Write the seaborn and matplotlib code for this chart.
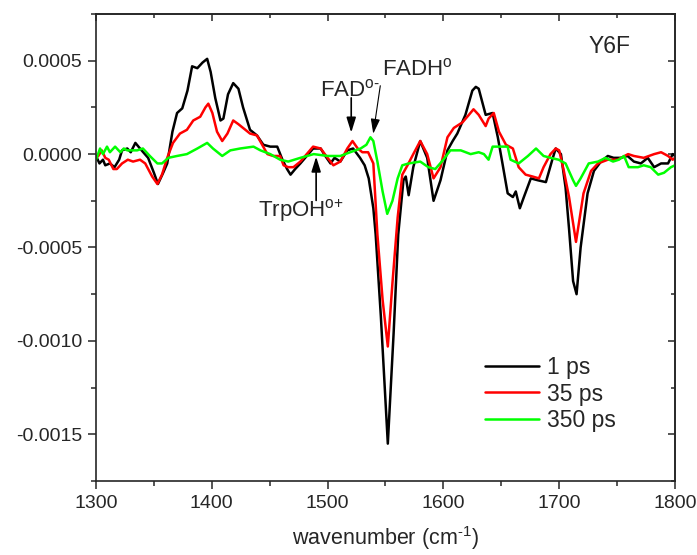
import numpy as np
import pandas as pd
import matplotlib
matplotlib.use("Agg")
import matplotlib.pyplot as plt
from matplotlib.ticker import MultipleLocator, FormatStrFormatter
import seaborn as sns

# ---------------- data ----------------
wn_1ps = [1300, 1303, 1306, 1308, 1312, 1316, 1320, 1322.5, 1327, 1330, 1334, 1338, 1345, 1350,
          1353.5, 1358, 1361.5, 1366, 1370, 1374.5, 1379, 1383, 1387.5, 1392, 1396, 1399, 1403,
          1407.5, 1410, 1414, 1418.5, 1423, 1427, 1433, 1439, 1444.5, 1450.5, 1456.5, 1461, 1465,
          1468, 1472, 1476.5, 1482, 1487.5, 1494, 1498, 1502.5, 1506, 1511, 1517, 1522, 1528,
          1532, 1535.5, 1539.5, 1541.5, 1546, 1552, 1557, 1561, 1565.5, 1567.5, 1570, 1574, 1580,
          1586, 1591.5, 1597.5, 1603.5, 1608, 1612, 1619, 1625, 1628, 1630.5, 1636.5, 1642.5,
          1647, 1651, 1655.5, 1660, 1662.5, 1666, 1669.5, 1675.5, 1681.5, 1688.5, 1694.5, 1697,
          1701.5, 1705.5, 1708.5, 1712, 1715, 1718.5, 1724.5, 1730, 1736, 1742, 1747, 1753, 1759,
          1764.5, 1770.5, 1776.5, 1782, 1788, 1794, 1798, 1800]
dA_1ps = [-0.00001, -0.00005, -0.00003, -0.00006, -0.00005, -0.00007, -0.00003, 0.00002, 0.00003,
          0.00001, 0.00006, 0.00003, -0.00002, -0.0001, -0.00016, -0.0001, -0.00005, 0.00012,
          0.00022, 0.000245, 0.00034, 0.00047, 0.00046, 0.00049, 0.00051, 0.00044, 0.0003,
          0.00018, 0.00019, 0.00032, 0.00038, 0.00035, 0.00025, 0.00013, 0.0001, 0.00005,
          0.00004, 0.00004, -0.00003, -0.00008, -0.00011, -0.00008, -0.00005, -0.00001, 0.00003,
          0.00003, -0.00001, -0.00005, -0.00002, -0.00004, 0.00002, 0.00003, -0.00002, -0.00006,
          -0.00013, -0.00029, -0.00043, -0.00087, -0.00155, -0.00096, -0.00043, -0.00014,
          -0.00012, -0.00022, -0.00007, 0.00007, -0.00002, -0.00025, -0.00014, 0.00002, 0.00007,
          0.00011, 0.00021, 0.00034, 0.00036, 0.00035, 0.00021, 0.00022, 0.00009, -0.00005,
          -0.00021, -0.00023, -0.0002, -0.00029, -0.00023, -0.00013, -0.00014, -0.00015,
          -0.00002, 0.00003, 0.0, -0.00018, -0.0004, -0.00068, -0.00075, -0.0005, -0.00021,
          -0.00009, -0.00004, -0.00001, -0.00002, -0.00002, -0.00001, -0.00004, -0.00005,
          -0.00002, -0.00007, -0.00005, -0.00005, 0.0, -0.00001]

wn_35ps = [1300, 1302, 1305, 1308, 1311, 1315, 1318, 1322.5, 1327.5, 1332, 1338, 1342.5, 1348.5,
           1353, 1357, 1361.5, 1366.5, 1372.5, 1378.5, 1384, 1390, 1394.5, 1397, 1400.5, 1404.5,
           1409, 1413.5, 1418.5, 1423, 1427, 1433, 1439, 1443.5, 1448, 1453, 1459, 1462, 1466,
           1470.5, 1476.5, 1482, 1487.5, 1494, 1500, 1505, 1511, 1517, 1521.5, 1526, 1530, 1535,
           1539.5, 1543, 1547.5, 1552, 1556, 1560.5, 1564.5, 1569, 1574, 1580, 1586, 1591.5,
           1597.5, 1603.5, 1609, 1616.5, 1622, 1626, 1630.5, 1636.5, 1639, 1643.5, 1648, 1654,
           1660, 1665, 1671, 1677, 1682.5, 1686.5, 1692.5, 1697, 1700, 1704, 1708.5, 1714.5, 1721,
           1727.5, 1733.5, 1742, 1750.5, 1759.5, 1764.5, 1773, 1782, 1788, 1794, 1798, 1800]
dA_35ps = [-0.00002, -0.00001, 0.00002, -0.00002, -0.00003, -0.00008, -0.00008, -0.00005,
           -0.00003, -0.00004, -0.00003, -0.00005, -0.00012, -0.00016, -0.00011, -0.00002,
           0.00006, 0.00011, 0.00013, 0.00018, 0.0002, 0.00025, 0.00027, 0.00022, 0.00012,
           0.00007, 0.00011, 0.00018, 0.00016, 0.00014, 0.00011, 0.0001, 0.00005, 0.0, -0.00001,
           -0.00001, -0.00006, -0.00007, -0.00007, -0.00004, 0.0, 0.00004, 0.00003, -0.00002,
           -0.00006, -0.00004, 0.00003, 0.00007, 0.00003, 0.00001, 0.00001, -0.00005, -0.00043,
           -0.00078, -0.00103, -0.00069, -0.00034, -0.00011, -0.00006, 0.0, 0.00007, 0.0,
           -0.00013, -0.00007, 0.00009, 0.00014, 0.00017, 0.00021, 0.00024, 0.00021, 0.00015,
           0.00019, 0.00022, 0.00012, 0.00005, 0.00003, -0.00007, -0.00011, -0.00012, -0.00013,
           -0.00007, 0.0, 0.00003, 0.00002, -0.00009, -0.00023, -0.00047, -0.00021, -0.00009,
           -0.00005, -0.00003, -0.00003, 0.0, -0.00001, -0.00002, 0.0, 0.00001, -0.00001,
           -0.00003, -0.00002]

wn_350ps = [1300, 1303.5, 1306, 1309.5, 1312, 1316.5, 1321, 1324, 1327, 1331, 1335.5, 1340.5,
            1346.5, 1353, 1357, 1362.5, 1370, 1378.5, 1387.5, 1396, 1401, 1409, 1416, 1424.5,
            1436, 1442, 1450.5, 1459, 1466, 1476.5, 1488, 1500, 1511, 1519.5, 1528.5, 1533.5,
            1537, 1539.5, 1543, 1547.5, 1551.5, 1556, 1560.5, 1564.5, 1570, 1580, 1587, 1593,
            1600, 1606, 1615, 1623.5, 1630.5, 1635, 1639, 1642.5, 1648, 1655.5, 1658, 1665, 1673,
            1680, 1686.5, 1692.5, 1699.5, 1705.5, 1712, 1714.5, 1718.5, 1725.5, 1733.5, 1740,
            1746.5, 1751.5, 1756, 1760, 1768, 1773, 1779, 1785.5, 1790.5, 1796.5, 1800]
dA_350ps = [-0.00003, 0.00003, 0.0, 0.00004, 0.00001, 0.00004, 0.00001, 0.00003, 0.00002,
            0.00002, 0.00002, 0.00003, -0.00001, -0.00005, -0.00005, -0.00002, -0.00001, 0.0,
            0.00003, 0.00006, 0.00003, -0.00001, 0.00002, 0.00003, 0.00004, 0.00002, 0.0,
            -0.00003, -0.00004, -0.00002, 0.0, -0.00001, -0.00001, 0.00001, 0.00003, 0.00005,
            0.00009, 0.00007, -0.00004, -0.0002, -0.00032, -0.00025, -0.00013, -0.00006,
            -0.00005, -0.00004, -0.00007, -0.00008, -0.00003, 0.00002, 0.00002, 0.0, 0.00001,
            0.0, -0.00003, 0.00004, 0.00004, 0.00004, -0.00003, -0.00005, -0.00001, 0.00003,
            -0.00001, -0.00002, -0.00003, -0.00005, -0.00014, -0.00017, -0.00013, -0.00005,
            -0.00004, -0.00002, -0.00004, -0.00003, -0.00001, -0.00007, -0.00007, -0.00006,
            -0.00007, -0.00011, -0.0001, -0.00007, -0.00006]

series_labels = ["1 ps", "35 ps", "350 ps"]
series_colors = ["#000000", "#ff0000", "#00ff00"]

x_ticks = [1300, 1400, 1500, 1600, 1700, 1800]
y_ticks = [-0.0015, -0.0010, -0.0005, 0.0, 0.0005]

# ---------------- build long table ----------------
frames = []
for lab, wn, da in zip(series_labels, [wn_1ps, wn_35ps, wn_350ps], [dA_1ps, dA_35ps, dA_350ps]):
    frames.append(pd.DataFrame({"wn": wn, "dA": da, "delay": lab}))
df = pd.concat(frames, ignore_index=True)

# ---------------- style ----------------
sns.set_style("ticks")
plt.rcParams["font.family"] = ["Liberation Sans", "DejaVu Sans"]
plt.rcParams["mathtext.fontset"] = "custom"
plt.rcParams["mathtext.rm"] = "Liberation Sans"
plt.rcParams["mathtext.it"] = "Liberation Sans"
plt.rcParams["mathtext.bf"] = "Liberation Sans:bold"

fig = plt.figure(figsize=(6.97, 5.55), dpi=100)
ax = fig.add_axes([96 / 697, 74 / 555, 579 / 697, 467 / 555])

sns.lineplot(data=df, x="wn", y="dA", hue="delay", hue_order=series_labels,
             palette=dict(zip(series_labels, series_colors)), estimator=None, sort=False,
             linewidth=1.8, ax=ax)

ax.set_xlim(1300, 1800)
ax.set_ylim(-0.00175, 0.00075)
ax.set_xticks(x_ticks)
ax.set_yticks(y_ticks)
ax.xaxis.set_minor_locator(MultipleLocator(50))
ax.yaxis.set_minor_locator(MultipleLocator(0.00025))
ax.yaxis.set_major_formatter(FormatStrFormatter("%.4f"))
ax.tick_params(which="major", direction="out", length=6, width=1.1, labelsize=14, pad=4)
ax.tick_params(which="minor", direction="out", length=3.3, width=1.1)
for s in ax.spines.values():
    s.set_linewidth(1.2)
    s.set_visible(True)

# mirrored inward ticks on top / right
secx = ax.secondary_xaxis("top")
secx.set_xticks(x_ticks)
secx.xaxis.set_minor_locator(MultipleLocator(50))
secx.tick_params(which="major", direction="in", length=5, width=1.1, labeltop=False)
secx.tick_params(which="minor", direction="in", length=2.8, width=1.1)
secx.spines["top"].set_linewidth(1.2)
secy = ax.secondary_yaxis("right")
secy.set_yticks(y_ticks)
secy.yaxis.set_minor_locator(MultipleLocator(0.00025))
secy.tick_params(which="major", direction="in", length=5, width=1.1, labelright=False)
secy.tick_params(which="minor", direction="in", length=2.8, width=1.1)
secy.spines["right"].set_linewidth(1.2)

ax.set_xlabel(r"wavenumber (cm$^{\text{-1}}$)", fontsize=15.5, labelpad=9)
ax.set_ylabel("")

# legend
handles, labels = ax.get_legend_handles_labels()
leg = ax.legend(handles, labels, loc="center left", bbox_to_anchor=(485 / 697, 1 - 394 / 555),
                bbox_transform=fig.transFigure, frameon=False, fontsize=16.5, borderpad=0,
                borderaxespad=0, handlelength=2.36, handletextpad=0.35, labelspacing=0.15)
for h in leg.get_lines():
    h.set_linewidth(1.8)

# annotations
ax.text(1725.2, 0.000542, "Y6F", fontsize=16.5, ha="left", va="baseline")
ax.text(1493.6, 0.000307, r"FAD$^{\text{o-}}$", fontsize=16, ha="left", va="baseline")
ax.text(1547.2, 0.000419, r"FADH$^{\text{o}}$", fontsize=16, ha="left", va="baseline")
ax.text(1440.0, -0.000339, r"TrpOH$^{\text{o+}}$", fontsize=16, ha="left", va="baseline")

arrow_kw = dict(arrowstyle="-|>,head_length=0.9,head_width=0.28", color="black",
                shrinkA=0, shrinkB=0, mutation_scale=10)
ax.annotate("", xy=(1520.4, 0.000115), xytext=(1520.4, 0.000301),
            arrowprops=dict(lw=1.2, **arrow_kw))
ax.annotate("", xy=(1539.4, 0.000109), xytext=(1545.5, 0.000366),
            arrowprops=dict(lw=0.8, **arrow_kw))
ax.annotate("", xy=(1490.1, -0.0000133), xytext=(1490.1, -0.000248),
            arrowprops=dict(lw=1.2, **arrow_kw))

fig.savefig("out.png", dpi=100)
